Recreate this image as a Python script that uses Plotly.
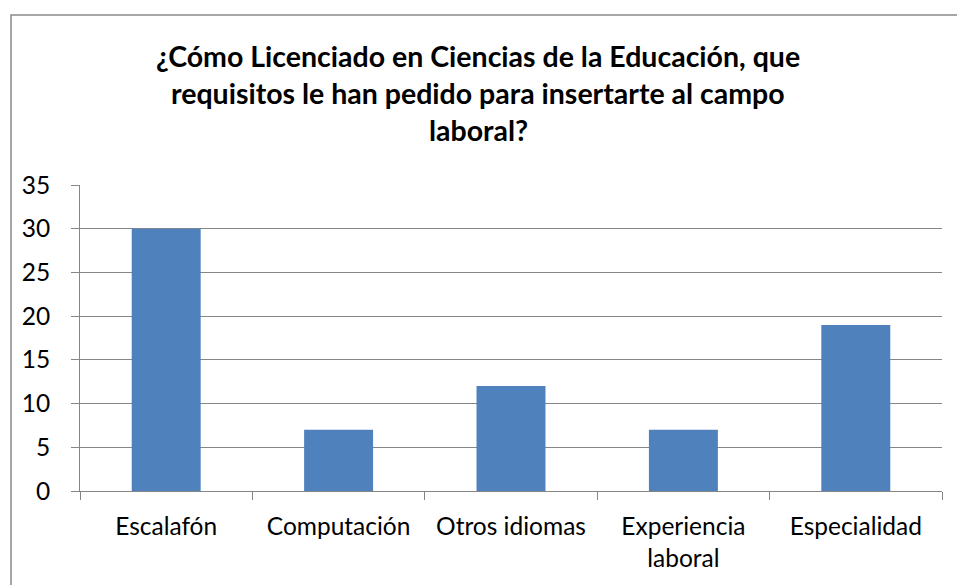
import plotly.graph_objects as go

categories = ["Escalafón", "Computación", "Otros idiomas", "Experiencia<br>laboral", "Especialidad"]
values = [30, 7, 12, 7, 19]
title_lines = [
    "¿Cómo Licenciado en Ciencias de la Educación, que",
    "requisitos le han pedido para insertarte al campo",
    "laboral?",
]
y_ticks = [0, 5, 10, 15, 20, 25, 30, 35]

W, H = 957, 585
L, R, T, B = 80, 15, 185, 94
ph = H - T - B
pw = W - L - R

FONT = "Lato"
GRID = "#868686"

fig = go.Figure()
fig.add_trace(go.Bar(x=categories, y=values, marker=dict(color="#4F81BD", line=dict(width=0))))

def py(ypix):
    return (H - B - ypix) / ph

def px(xpix):
    return (xpix - L) / pw

for line, yc in zip(title_lines, [56, 93, 130]):
    fig.add_annotation(text="<b>" + line + "</b>", xref="paper", yref="paper",
                       x=px(478), y=py(yc), xanchor="center", yanchor="middle",
                       showarrow=False, font=dict(family=FONT, size=28.5, color="black"))

fig.add_shape(type="rect", xref="paper", yref="paper",
              x0=px(11), x1=px(1000), y0=py(700), y1=py(15),
              line=dict(color="#8a8a8a", width=1.5), fillcolor="rgba(0,0,0,0)", layer="below")

fig.update_layout(
    width=W, height=H,
    margin=dict(l=L, r=R, t=T, b=B),
    paper_bgcolor="white", plot_bgcolor="white",
    bargap=0.6, showlegend=False,
    font=dict(family=FONT, size=24.5, color="black"),
)
fig.update_xaxes(type="category", showline=True, linecolor=GRID, linewidth=1,
                 ticks="outside", tickson="boundaries", ticklen=8, tickcolor=GRID,
                 showgrid=False, ticklabelstandoff=14, tickfont=dict(family=FONT, size=24.5))
fig.update_yaxes(range=[0, 35], tickvals=y_ticks, showline=True, linecolor=GRID, linewidth=1,
                 ticks="outside", ticklen=8, tickcolor=GRID, showgrid=True, gridcolor=GRID,
                 gridwidth=1, zeroline=False, ticklabelstandoff=16,
                 tickfont=dict(family=FONT, size=24.5))

fig.write_html("out.html", config={"displayModeBar": False},
               post_script="document.body.style.margin='0';")
